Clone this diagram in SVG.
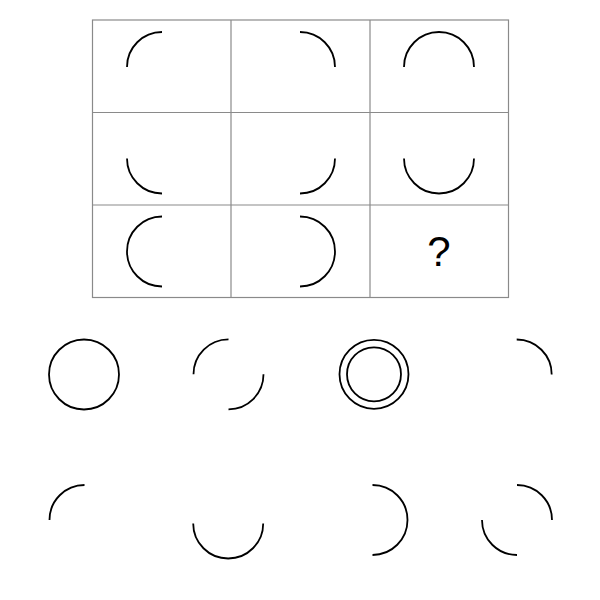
<svg xmlns="http://www.w3.org/2000/svg" width="600" height="600" viewBox="0 0 600 600">
<style>
.grid{fill:none;stroke:#8a8a8a;stroke-width:1.2}
.arc{fill:none;stroke:#000;stroke-width:1.8}
.q{font-family:"Liberation Sans",Arial,sans-serif;font-size:42px;fill:#000;text-anchor:middle}
</style>
<rect width="600" height="600" fill="#fff"/>
<g id="grid">
<rect class="grid" x="92.5" y="20" width="416" height="277.5"/>
<line class="grid" x1="231" y1="20" x2="231" y2="297.5"/>
<line class="grid" x1="370" y1="20" x2="370" y2="297.5"/>
<line class="grid" x1="92.5" y1="112.5" x2="508.5" y2="112.5"/>
<line class="grid" x1="92.5" y1="205" x2="508.5" y2="205"/>
</g>
<g id="cell-1-1"><path class="arc" d="M127,67 A35,35 0 0 1 162,32"/></g>
<g id="cell-1-2"><path class="arc" d="M300,32 A35,35 0 0 1 335,67"/></g>
<g id="cell-1-3"><path class="arc" d="M404,67 A35,35 0 0 1 474,67"/></g>
<g id="cell-2-1"><path class="arc" d="M127,158.5 A35,35 0 0 0 162,193.5"/></g>
<g id="cell-2-2"><path class="arc" d="M300,193.5 A35,35 0 0 0 335,158.5"/></g>
<g id="cell-2-3"><path class="arc" d="M404,158.5 A35,35 0 0 0 474,158.5"/></g>
<g id="cell-3-1"><path class="arc" d="M162,216.5 A35,35 0 0 0 162,286.5"/></g>
<g id="cell-3-2"><path class="arc" d="M300,216.5 A35,35 0 0 1 300,286.5"/></g>
<g id="cell-3-3"><text class="q" x="439" y="266">?</text></g>
<g id="option-1"><circle class="arc" cx="84" cy="374.5" r="35"/></g>
<g id="option-2"><path class="arc" d="M193.5,374.3 A35,35 0 0 1 228.5,339.3"/><path class="arc" d="M263.5,374.3 A35,35 0 0 1 228.5,409.3"/></g>
<g id="option-3"><circle class="arc" cx="374" cy="374.3" r="34.5"/><circle class="arc" cx="374" cy="374.3" r="27"/></g>
<g id="option-4"><path class="arc" d="M516.7,339.5 A35,35 0 0 1 551.7,374.5"/></g>
<g id="option-5"><path class="arc" d="M49.5,520 A35,35 0 0 1 84.5,485"/></g>
<g id="option-6"><path class="arc" d="M193.2,523.5 A35,35 0 0 0 263.2,523.5"/></g>
<g id="option-7"><path class="arc" d="M372.5,485 A35,35 0 0 1 372.5,555"/></g>
<g id="option-8"><path class="arc" d="M517,485 A35,35 0 0 1 552,520"/><path class="arc" d="M482,520 A35,35 0 0 0 517,555"/></g>
<g id="connectors"></g>
</svg>
